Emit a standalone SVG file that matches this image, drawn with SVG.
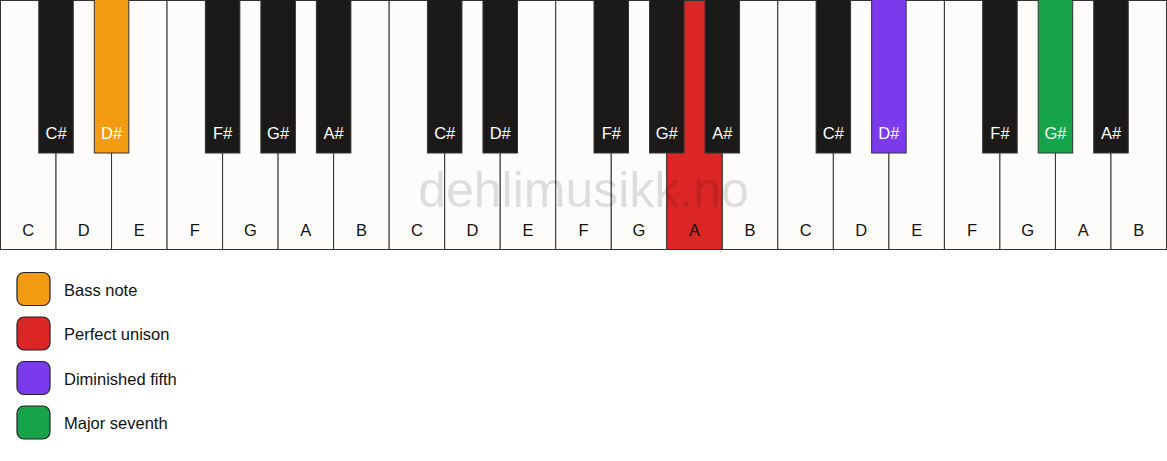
<svg xmlns="http://www.w3.org/2000/svg" width="1167" height="461" viewBox="0 0 1167 461">
<style>
text{font-family:"Liberation Sans",Arial,sans-serif;font-size:16.5px}
.w{fill:#fdfcfa;stroke:#333;stroke-width:1}
.b{fill:#1c1a19;stroke:#333;stroke-width:1}
.wl{fill:#111;text-anchor:middle}
.bl{fill:#fff;text-anchor:middle}
.lg{stroke:#222;stroke-width:1.2}
.lt{fill:#111}
.orange{fill:#f39c12}
.red{fill:#dc2626}
.purple{fill:#7c3aed}
.green{fill:#16a34a}
</style>
<rect width="1167" height="461" fill="#ffffff"/>
<g id="white-keys">
<g id="w1"><rect class="w" x="0.5" y="0.5" width="55.52" height="249"/><text class="wl" x="28.26" y="236">C</text></g>
<g id="w2"><rect class="w" x="56.02" y="0.5" width="55.52" height="249"/><text class="wl" x="83.79" y="236">D</text></g>
<g id="w3"><rect class="w" x="111.55" y="0.5" width="55.52" height="249"/><text class="wl" x="139.31" y="236">E</text></g>
<g id="w4"><rect class="w" x="167.07" y="0.5" width="55.52" height="249"/><text class="wl" x="194.83" y="236">F</text></g>
<g id="w5"><rect class="w" x="222.6" y="0.5" width="55.52" height="249"/><text class="wl" x="250.36" y="236">G</text></g>
<g id="w6"><rect class="w" x="278.12" y="0.5" width="55.52" height="249"/><text class="wl" x="305.88" y="236">A</text></g>
<g id="w7"><rect class="w" x="333.64" y="0.5" width="55.52" height="249"/><text class="wl" x="361.4" y="236">B</text></g>
<g id="w8"><rect class="w" x="389.17" y="0.5" width="55.52" height="249"/><text class="wl" x="416.93" y="236">C</text></g>
<g id="w9"><rect class="w" x="444.69" y="0.5" width="55.52" height="249"/><text class="wl" x="472.45" y="236">D</text></g>
<g id="w10"><rect class="w" x="500.22" y="0.5" width="55.52" height="249"/><text class="wl" x="527.98" y="236">E</text></g>
<g id="w11"><rect class="w" x="555.74" y="0.5" width="55.52" height="249"/><text class="wl" x="583.5" y="236">F</text></g>
<g id="w12"><rect class="w" x="611.26" y="0.5" width="55.52" height="249"/><text class="wl" x="639.02" y="236">G</text></g>
<g id="w13"><rect class="w red" x="666.79" y="0.5" width="55.52" height="249"/><text class="wl" x="694.55" y="236">A</text></g>
<g id="w14"><rect class="w" x="722.31" y="0.5" width="55.52" height="249"/><text class="wl" x="750.07" y="236">B</text></g>
<g id="w15"><rect class="w" x="777.84" y="0.5" width="55.52" height="249"/><text class="wl" x="805.6" y="236">C</text></g>
<g id="w16"><rect class="w" x="833.36" y="0.5" width="55.52" height="249"/><text class="wl" x="861.12" y="236">D</text></g>
<g id="w17"><rect class="w" x="888.88" y="0.5" width="55.52" height="249"/><text class="wl" x="916.64" y="236">E</text></g>
<g id="w18"><rect class="w" x="944.41" y="0.5" width="55.52" height="249"/><text class="wl" x="972.17" y="236">F</text></g>
<g id="w19"><rect class="w" x="999.93" y="0.5" width="55.52" height="249"/><text class="wl" x="1027.69" y="236">G</text></g>
<g id="w20"><rect class="w" x="1055.46" y="0.5" width="55.52" height="249"/><text class="wl" x="1083.22" y="236">A</text></g>
<g id="w21"><rect class="w" x="1110.98" y="0.5" width="55.52" height="249"/><text class="wl" x="1138.74" y="236">B</text></g>
</g>
<text id="watermark" x="583.5" y="207" text-anchor="middle" style="font-size:50px" fill="#000" fill-opacity="0.12">dehlimusikk.no</text>
<g id="black-keys">
<g id="b1"><rect class="b" x="38.77" y="-1" width="34.5" height="154"/><text class="bl" x="56.02" y="139">C#</text></g>
<g id="b2"><rect class="b orange" x="94.3" y="-1" width="34.5" height="154"/><text class="bl" x="111.55" y="139">D#</text></g>
<g id="b3"><rect class="b" x="205.35" y="-1" width="34.5" height="154"/><text class="bl" x="222.6" y="139">F#</text></g>
<g id="b4"><rect class="b" x="260.87" y="-1" width="34.5" height="154"/><text class="bl" x="278.12" y="139">G#</text></g>
<g id="b5"><rect class="b" x="316.39" y="-1" width="34.5" height="154"/><text class="bl" x="333.64" y="139">A#</text></g>
<g id="b6"><rect class="b" x="427.44" y="-1" width="34.5" height="154"/><text class="bl" x="444.69" y="139">C#</text></g>
<g id="b7"><rect class="b" x="482.97" y="-1" width="34.5" height="154"/><text class="bl" x="500.22" y="139">D#</text></g>
<g id="b8"><rect class="b" x="594.01" y="-1" width="34.5" height="154"/><text class="bl" x="611.26" y="139">F#</text></g>
<g id="b9"><rect class="b" x="649.54" y="-1" width="34.5" height="154"/><text class="bl" x="666.79" y="139">G#</text></g>
<g id="b10"><rect class="b" x="705.06" y="-1" width="34.5" height="154"/><text class="bl" x="722.31" y="139">A#</text></g>
<g id="b11"><rect class="b" x="816.11" y="-1" width="34.5" height="154"/><text class="bl" x="833.36" y="139">C#</text></g>
<g id="b12"><rect class="b purple" x="871.63" y="-1" width="34.5" height="154"/><text class="bl" x="888.88" y="139">D#</text></g>
<g id="b13"><rect class="b" x="982.68" y="-1" width="34.5" height="154"/><text class="bl" x="999.93" y="139">F#</text></g>
<g id="b14"><rect class="b green" x="1038.21" y="-1" width="34.5" height="154"/><text class="bl" x="1055.46" y="139">G#</text></g>
<g id="b15"><rect class="b" x="1093.73" y="-1" width="34.5" height="154"/><text class="bl" x="1110.98" y="139">A#</text></g>
</g>
<g id="legend">
<g id="legend-bass"><rect class="lg orange" x="17" y="272.5" width="33" height="33" rx="7"/><text class="lt" x="64" y="295.5">Bass note</text></g>
<g id="legend-unison"><rect class="lg red" x="17" y="317" width="33" height="33" rx="7"/><text class="lt" x="64" y="340">Perfect unison</text></g>
<g id="legend-fifth"><rect class="lg purple" x="17" y="361.5" width="33" height="33" rx="7"/><text class="lt" x="64" y="384.5">Diminished fifth</text></g>
<g id="legend-seventh"><rect class="lg green" x="17" y="406" width="33" height="33" rx="7"/><text class="lt" x="64" y="429">Major seventh</text></g>
</g>
</svg>
